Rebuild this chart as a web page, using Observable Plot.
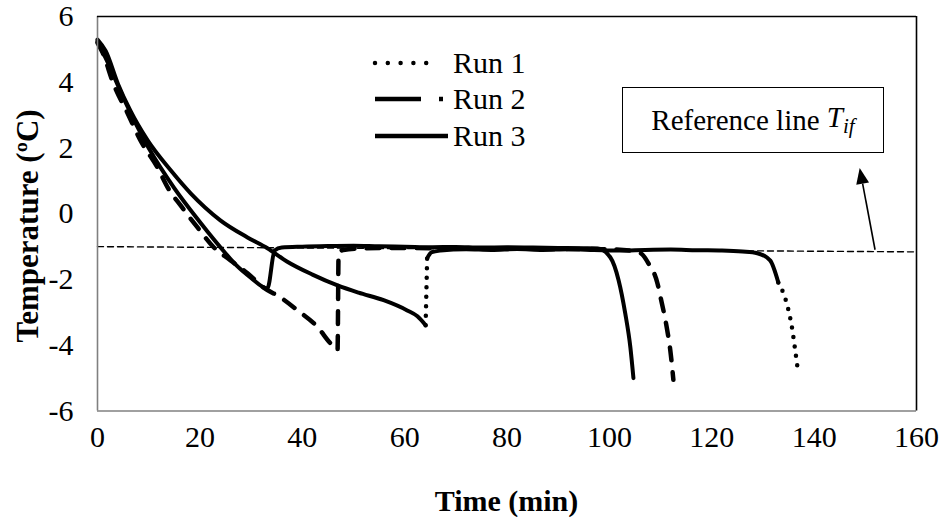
<!DOCTYPE html>
<html><head><meta charset="utf-8">
<script src="https://cdn.jsdelivr.net/npm/d3@7"></script>
<script src="https://cdn.jsdelivr.net/npm/@observablehq/plot@0.6"></script>
<style>
body{margin:0;background:#fff;}
#wrap{position:relative;width:943px;height:517px;font-family:"Liberation Serif","Times New Roman",serif;color:#000;}
.ttl{position:absolute;font-weight:bold;font-size:30px;white-space:nowrap;line-height:1;}
#refbox{position:absolute;border:1.5px solid #000;box-sizing:border-box;display:flex;align-items:center;justify-content:center;font-size:29px;background:#fff;white-space:nowrap;}
</style></head><body><div id="wrap"></div>
<script>
// ---- data ----
const run1Time = [0, 1.6, 4, 6.4, 9.8, 14.3, 18.2, 24, 29.3, 33.2, 37, 42, 46.9, 51, 55.9, 60.5, 62.5, 64.1, 64.4, 65.3, 67, 72, 77, 82, 87, 92, 97, 102, 107, 112, 117, 122, 126, 128.9, 131.4, 133, 134, 135, 135.7, 136.3, 136.9];
const run1Temp = [5.3, 4.95, 3.95, 3.14, 2.23, 1.32, 0.62, -0.2, -0.72, -1.05, -1.45, -1.85, -2.18, -2.4, -2.63, -2.94, -3.12, -3.39, -1.35, -1.17, -1.12, -1.08, -1.1, -1.07, -1.1, -1.08, -1.1, -1.12, -1.1, -1.09, -1.11, -1.12, -1.15, -1.2, -1.42, -2.09, -2.42, -2.94, -3.49, -4.15, -4.85];

const run2Time = [0, 1, 3.1, 5.9, 8.4, 11.7, 13.9, 16.2, 19.5, 22.7, 26, 29.3, 32.4, 35.7, 39.1, 43, 45.5, 46.9, 47.1, 48, 52, 60, 70, 80, 90, 100, 104, 106.1, 107.6, 109.4, 110, 111.3, 111.9, 112.5];
const run2Temp = [5.2, 4.9, 3.96, 3.05, 2.23, 1.41, 0.75, 0.26, -0.41, -1.02, -1.42, -1.81, -2.24, -2.54, -2.94, -3.45, -3.94, -4.15, -1.2, -1.1, -1.05, -1.04, -1.06, -1.05, -1.07, -1.08, -1.12, -1.2, -1.5, -2.12, -2.54, -3.54, -4.15, -5.05];

const run3Time = [0, 2, 5, 10, 15, 20, 25, 27, 30, 33.2, 34.6, 36, 40, 45, 50, 55, 60, 65, 70, 75, 80, 85, 90, 95, 97.7, 100.2, 101.8, 103.1, 104.1, 104.7];
const run3Temp = [5.25, 4.6, 3.55, 2.0, 0.78, -0.25, -1.2, -1.55, -1.95, -2.27, -1.12, -1.03, -1.0, -0.98, -0.97, -0.99, -1.0, -1.02, -1.01, -1.03, -1.02, -1.03, -1.04, -1.05, -1.06, -1.33, -2.02, -3.03, -4.06, -5.0];

const refTime = [0, 160];
const refTemp = [-1.0, -1.16];

const arrowTail = [152, -1.11];
const arrowHead = [149, 1.38];

const seriesNames = ["Run 1", "Run 2", "Run 3"];
const xTicks = [0, 20, 40, 60, 80, 100, 120, 140, 160];
const yTicks = [-6, -4, -2, 0, 2, 4, 6];
const xDomain = [0, 160];
const yDomain = [-6, 6];

// ---- build tables ----
const rows = (ts, vs) => ts.map((t, i) => ({t, T: vs[i]}));
const r1 = rows(run1Time, run1Temp);
const r2 = rows(run2Time, run2Temp);
const r3 = rows(run3Time, run3Temp);
const ref = rows(refTime, refTemp);
// Run 1 markers appear as a dotted trail only where the curve is steep (nucleation jump, final drop)
const dottedSpans = [[64.1, 64.4], [133, 137]];
const r1Dots = dottedSpans.map(([a, b]) => r1.filter(d => d.t >= a && d.t <= b));
const r1Solid = [r1.filter(d => d.t <= 64.1), r1.filter(d => d.t >= 64.4 && d.t <= 133)];

const W = 943, H = 517;
const mL = 97, mR = 27, mT = 16, mB = 106.5;
const curve = "monotone-x";
const FONT = "Liberation Serif, Times New Roman, serif";

const marks = [
  Plot.line(ref, {x: "t", y: "T", stroke: "#000", strokeWidth: 1.4, strokeDasharray: "6,4"}),
  ...r1Solid.map(seg => Plot.line(seg, {x: "t", y: "T", stroke: "#000", strokeWidth: 4, curve})),
  ...r1Dots.map(seg => Plot.line(seg, {x: "t", y: "T", stroke: "#000", strokeWidth: 4.5, strokeDasharray: "0,9.5", strokeLinecap: "round", curve})),
  Plot.line(r2, {x: "t", y: "T", stroke: "#000", strokeWidth: 4.5, strokeDasharray: "13,12", strokeLinecap: "round", curve}),
  Plot.line(r3, {x: "t", y: "T", stroke: "#000", strokeWidth: 4, curve}),
  Plot.ruleX([xDomain[0]], {stroke: "#808080", strokeWidth: 1.6}),
  Plot.ruleY([yDomain[0]], {stroke: "#808080", strokeWidth: 1.6}),
  Plot.ruleX([xDomain[1]], {stroke: "#000", strokeWidth: 1.6}),
  Plot.ruleY([yDomain[1]], {stroke: "#000", strokeWidth: 1.6}),
  Plot.axisX({ticks: xTicks, tickSize: 0, tickPadding: 15, label: null, tickFormat: d => String(d), fontSize: 30, fontFamily: FONT, fill: "#000"}),
  Plot.axisY({ticks: yTicks, tickSize: 0, tickPadding: 24, label: null, tickFormat: d => String(d), fontSize: 30, fontFamily: FONT, fill: "#000"})
];

const plot = Plot.plot({
  width: W, height: H,
  marginLeft: mL, marginRight: mR, marginTop: mT, marginBottom: mB,
  x: {domain: xDomain},
  y: {domain: yDomain},
  style: {fontFamily: FONT, fontSize: "30px", color: "#000", background: "#fff", overflow: "visible"},
  marks
});

const wrap = document.getElementById("wrap");
wrap.appendChild(plot);
const sx = plot.scale("x"), sy = plot.scale("y");
const X = v => sx.apply(v), Y = v => sy.apply(v);

const svg = d3.select(plot);
// arrow (data-anchored annotation)
{
  const x1 = X(arrowTail[0]), y1 = Y(arrowTail[1]), x2 = X(arrowHead[0]), y2 = Y(arrowHead[1]);
  const ang = Math.atan2(y2 - y1, x2 - x1);
  const hl = 16, hw = 6.5;
  const bx = x2 - hl * Math.cos(ang), by = y2 - hl * Math.sin(ang);
  svg.append("line").attr("x1", x1).attr("y1", y1).attr("x2", bx).attr("y2", by).attr("stroke", "#000").attr("stroke-width", 1.6);
  const px = -Math.sin(ang) * hw, py = Math.cos(ang) * hw;
  svg.append("polygon").attr("points", `${x2},${y2} ${bx + px},${by + py} ${bx - px},${by - py}`).attr("fill", "#000");
}

// legend (inside plot area, upper centre)
{
  const g = svg.append("g").attr("font-family", FONT).attr("font-size", 30).attr("text-anchor", "start");
  const lx0 = 375, ys = [63, 99, 136], tx = 453;
  g.append("line").attr("x1", lx0).attr("x2", 439).attr("y1", ys[0]).attr("y2", ys[0]).attr("stroke", "#000").attr("stroke-width", 4.5).attr("stroke-dasharray", "0,12.8").attr("stroke-linecap", "round");
  g.append("line").attr("x1", lx0).attr("x2", 443).attr("y1", ys[1]).attr("y2", ys[1]).attr("stroke", "#000").attr("stroke-width", 4.5).attr("stroke-dasharray", "46,18,4,100");
  g.append("line").attr("x1", lx0).attr("x2", 448).attr("y1", ys[2]).attr("y2", ys[2]).attr("stroke", "#000").attr("stroke-width", 4.5);
  seriesNames.forEach((n, i) => g.append("text").attr("x", tx).attr("y", ys[i]).attr("dy", "0.34em").attr("fill", "#000").text(n));
}

// axis titles
const xt = document.createElement("div");
xt.className = "ttl"; xt.textContent = "Time (min)";
xt.style.left = (mL + (W - mL - mR) / 2) + "px"; xt.style.top = "501px";
xt.style.transform = "translate(-50%,-50%)";
wrap.appendChild(xt);
const yt = document.createElement("div");
yt.className = "ttl"; yt.textContent = "Temperature (ºC)";
yt.style.fontSize = "31px";
yt.style.left = "27px"; yt.style.top = "226px";
yt.style.transform = "translate(-50%,-50%) rotate(-90deg)";
wrap.appendChild(yt);

// reference-line annotation box
const box = document.createElement("div");
box.id = "refbox";
box.style.left = "622px"; box.style.top = "87px"; box.style.width = "262px"; box.style.height = "66px";
box.innerHTML = 'Reference line&nbsp;<span style="font-style:italic">T<sub style="font-size:21px;vertical-align:-6px">if</sub></span>';
wrap.appendChild(box);
</script></body></html>
